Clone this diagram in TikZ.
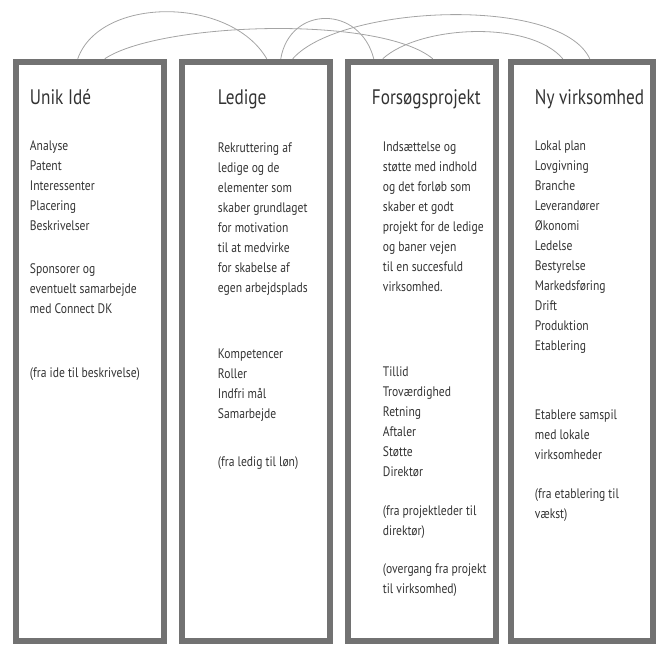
\documentclass[tikz,border=0pt]{standalone}
\usepackage{fontspec}
\setmainfont{PT Sans}[FakeStretch=0.84]
\newfontfamily\headfont{PT Sans}[FakeStretch=0.82]
\usetikzlibrary{positioning, calc}

\definecolor{framegray}{HTML}{727272}
\definecolor{linkgray}{HTML}{A4A4A4}
\definecolor{inkgray}{HTML}{333333}

\begin{document}
\begin{tikzpicture}[
  x=1pt, y=-1pt,
  node distance=11.5pt,
  column/.style={rectangle, draw=framegray, line width=6.5pt, inner sep=0pt,
                 minimum width=148pt, minimum height=579pt},
  heading/.style={anchor=base west, inner sep=0pt, text=inkgray,
                  font=\headfont\fontsize{21}{24}\selectfont},
  body/.style={anchor=north west, inner sep=0pt, align=left, text=inkgray,
               font=\fontsize{13.8}{20}\selectfont},
  link/.style={draw=linkgray, line width=0.8pt}
]
\useasboundingbox (0,0) rectangle (658,646);

% =======================================================
%                     COLUMNS
% =======================================================
\node[column] (unik) at (90,351.5) {};
\node[column, right=of unik] (ledige) {};
\node[column, right=of ledige] (forsog) {};
\node[column, minimum width=142pt, right=8.5pt of forsog] (virksomhed) {};

% Headings
\node[heading] (unik_title) at ($(unik.north west)+(17,46)$) {Unik Idé};
\node[heading] (ledige_title) at ($(ledige.north west)+(39,46)$) {Ledige};
\node[heading] (forsog_title) at ($(forsog.north west)+(27,46)$) {Forsøgsprojekt};
\node[heading] (virk_title) at ($(virksomhed.north west)+(27,46)$) {Ny virksomhed};

% Column texts
\node[body] (unik_body) at ($(unik.north west)+(17,82)$)
  {Analyse\\Patent\\Interessenter\\Placering\\Beskrivelser\\[23pt]
   Sponsorer og\\eventuelt samarbejde\\med Connect DK\\[44pt]
   (fra ide til beskrivelse)};

\node[body] (ledige_body) at ($(ledige.north west)+(39,84)$)
  {Rekruttering af\\ledige og de\\elementer som\\skaber grundlaget\\for motivation\\
   til at medvirke\\for skabelse af\\egen arbejdsplads\\[46pt]
   Kompetencer\\Roller\\Indfri mål\\Samarbejde\\[28pt]
   (fra ledig til løn)};

\node[body] (forsog_body) at ($(forsog.north west)+(38,83)$)
  {Indsættelse og\\støtte med indhold\\og det forløb som\\skaber et godt\\
   projekt for de ledige\\og baner vejen\\til en succesfuld\\virksomhed.\\[65pt]
   Tillid\\Troværdighed\\Retning\\Aftaler\\Støtte\\Direktør\\[19pt]
   (fra projektleder til\\direktør)\\[18pt]
   (overgang fra projekt\\til virksomhed)};

\node[body] (virk_body) at ($(virksomhed.north west)+(27,82)$)
  {Lokal plan\\Lovgivning\\Branche\\Leverandører\\Økonomi\\Ledelse\\Bestyrelse\\
   Markedsføring\\Drift\\Produktion\\Etablering\\[49pt]
   Etablere samspil\\med lokale\\virksomheder\\[19pt]
   (fra etablering til\\vækst)};

% =======================================================
%                     CONNECTIONS
% =======================================================
\coordinate (u1) at ($(unik.north west)+(65,0)$);
\coordinate (u2) at ($(unik.north west)+(92,0)$);
\coordinate (l1) at ($(ledige.north west)+(88,0)$);
\coordinate (l2) at ($(ledige.north west)+(102,0)$);
\coordinate (l3) at ($(ledige.north west)+(114,0)$);
\coordinate (f1) at ($(forsog.north west)+(29,0)$);
\coordinate (f2) at ($(forsog.north west)+(38,0)$);
\coordinate (f3) at ($(forsog.north west)+(88,0)$);
\coordinate (v1) at ($(virksomhed.north west)+(55,0)$);
\coordinate (v2) at ($(virksomhed.north west)+(82,0)$);

% Unik Idé -> Ledige
\draw[link] (u1) .. controls (100,-4) and (230,-4) .. (l1);
% Unik Idé -> Forsøgsprojekt
\draw[link] (u2) .. controls (160,22) and (380,15) .. (f3);
% Ledige -> Forsøgsprojekt
\draw[link] (l2) .. controls (290,5) and (360,5) .. (f1);
% Ledige -> Ny virksomhed
\draw[link] (l3) .. controls (340,5) and (560,-5) .. (v2);
% Forsøgsprojekt -> Ny virksomhed
\draw[link] (f2) .. controls (420,25) and (530,20) .. (v1);

\end{tikzpicture}
\end{document}
